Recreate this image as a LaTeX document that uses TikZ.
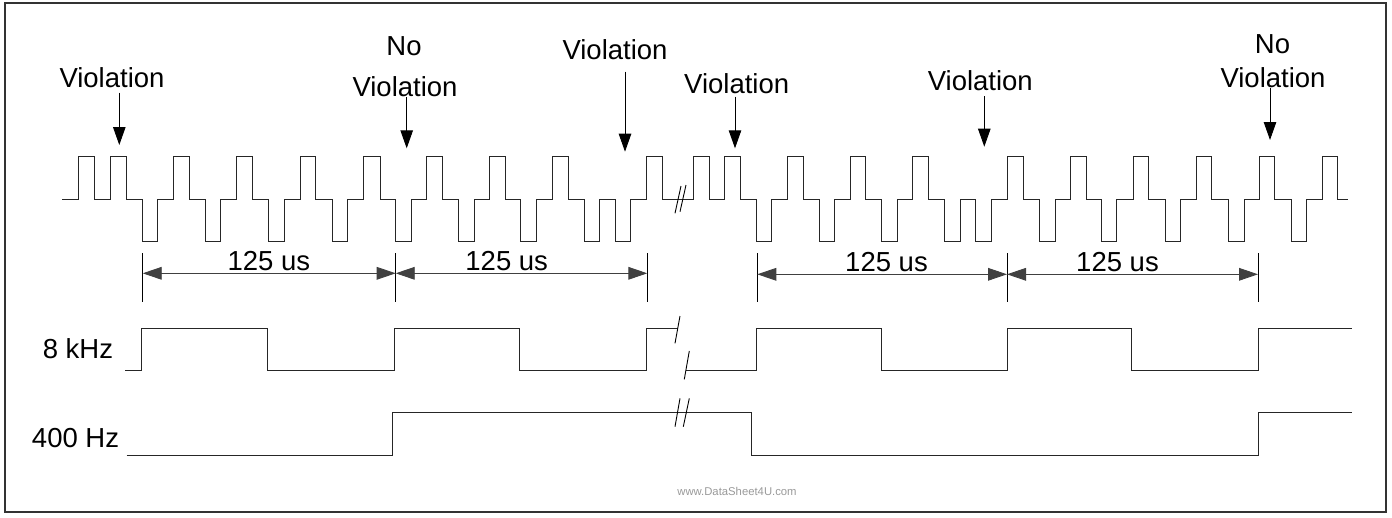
\documentclass[tikz,border=0pt]{standalone}
\usepackage{fontspec}
\setmainfont{Liberation Sans}
\usetikzlibrary{arrows.meta}
\begin{document}
\begin{tikzpicture}[x=1pt,y=-1pt,
  lbl/.style={font=\fontsize{27.5}{33}\selectfont, inner sep=0pt, anchor=base},
  lble/.style={font=\fontsize{27.5}{33}\selectfont, inner sep=0pt, anchor=base east},
  wave/.style={line width=1pt, black!85, line join=miter},
  varrow/.style={line width=0.9pt, -{Triangle[length=18pt,width=12.5pt]}},
  darrow/.style={line width=0.9pt, black!75, {Triangle[length=19pt,width=12.7pt]}-{Triangle[length=19pt,width=12.7pt]}},
  tickline/.style={line width=0.9pt},
  brk/.style={line width=0.9pt},
  frame/.style={line width=1.8pt, black!80},
  wm/.style={font=\fontsize{11.3}{13}\selectfont, text=black!40, inner sep=0pt, anchor=base}]
\useasboundingbox (0,0) rectangle (1392,517);
\draw[frame] (5,3.3) rectangle (1386,512);
\def\yH{156}
\def\yB{199.5}
\def\yL{241}
% line-coded signal
\draw[wave] (62,\yB) -| (78.3,\yH) -| (94.3,\yB) -| (110,\yH) -| (126.3,\yB)
 -| (142.3,\yL) -| (157.3,\yB) -| (173.3,\yH) -| (189.3,\yB) -| (205.3,\yL)
 -| (220.7,\yB) -| (236.7,\yH) -| (252.7,\yB) -| (268.7,\yL) -| (284,\yB)
 -| (300,\yH) -| (315.7,\yB) -| (332,\yL) -| (347.3,\yB) -| (363.3,\yH)
 -| (380,\yB) -| (395.5,\yL) -| (411,\yB) -| (426.7,\yH) -| (442.3,\yB)
 -| (458.7,\yL) -| (474,\yB) -| (489.3,\yH) -| (505.3,\yB) -| (520.7,\yL)
 -| (536.7,\yB) -| (552.3,\yH) -| (568.3,\yB) -| (584,\yL) -| (599,\yB)
 -| (615,\yL) -| (630.7,\yB) -| (646.7,\yH) -| (662.3,\yB) -| (693.3,\yH)
 -| (709.3,\yB) -| (724.3,\yH) -| (740,\yB) -| (756,\yL) -| (771,\yB)
 -| (787.3,\yH) -| (803.3,\yB) -| (819.3,\yL) -| (834.3,\yB) -| (850,\yH)
 -| (865.7,\yB) -| (881.7,\yL) -| (897.3,\yB) -| (912.7,\yH) -| (928.3,\yB)
 -| (944.3,\yL) -| (960,\yB) -| (975.7,\yL) -| (991.7,\yB) -| (1007,\yH)
 -| (1023,\yB) -| (1039.3,\yL) -| (1055,\yB) -| (1070.7,\yH) -| (1086,\yB)
 -| (1101.7,\yL) -| (1116.7,\yB) -| (1133.3,\yH) -| (1148.3,\yB) -| (1165,\yL)
 -| (1180,\yB) -| (1196,\yH) -| (1211,\yB) -| (1228.3,\yL) -| (1244,\yB)
 -| (1259.3,\yH) -| (1274.3,\yB) -| (1291,\yL) -| (1306.7,\yB) -| (1322.3,\yH)
 -| (1337.7,\yB) -- (1347.7,\yB);
\draw[brk] (675,213.3) -- (681,186);
\draw[brk] (680,211.7) -- (686,185);
% labels and arrows
\node[lbl] (v1) at (112,87.3) {Violation};
\coordinate (v1s) at (119.3,92.7); \coordinate (v1t) at (119.3,145);
\draw[varrow] (v1s) -- (v1t);
\node[lbl] (nv1a) at (404,55) {No};
\node[lbl] (nv1b) at (405,96.7) {Violation};
\coordinate (nv1s) at (406.7,97); \coordinate (nv1t) at (406.7,148.3);
\draw[varrow] (nv1s) -- (nv1t);
\node[lbl] (v2) at (615,59.3) {Violation};
\coordinate (v2s) at (625,71.7); \coordinate (v2t) at (625,151.7);
\draw[varrow] (v2s) -- (v2t);
\node[lbl] (v3) at (736.7,93.3) {Violation};
\coordinate (v3s) at (735,96.7); \coordinate (v3t) at (735,148.3);
\draw[varrow] (v3s) -- (v3t);
\node[lbl] (v4) at (980.3,90) {Violation};
\coordinate (v4s) at (984.3,96); \coordinate (v4t) at (984.3,146.7);
\draw[varrow] (v4s) -- (v4t);
\node[lbl] (nv2a) at (1272.5,53.3) {No};
\node[lbl] (nv2b) at (1273,87.3) {Violation};
\coordinate (nv2s) at (1270,88.3); \coordinate (nv2t) at (1270,140);
\draw[varrow] (nv2s) -- (nv2t);
% dimension lines
\foreach \n/\x/\y in {d1/142.7/273.3, d2/395.7/273.3, d3/647.3/273.3, d4/757.3/274.3, d5/1007/274.3, d6/1258/274.3} {
  \coordinate (\n t) at (\x,253);
  \coordinate (\n b) at (\x,301.7);
  \coordinate (\n m) at (\x,\y);
  \draw[tickline] (\n t) -- (\n b);
}
\draw[darrow] (d1m) -- (d2m);
\draw[darrow] (d2m) -- (d3m);
\draw[darrow] (d4m) -- (d5m);
\draw[darrow] (d5m) -- (d6m);
\node[lbl] (t1) at (268.8,270.7) {125 us};
\node[lbl] (t2) at (506.7,270.7) {125 us};
\node[lbl] (t3) at (886.5,271.3) {125 us};
\node[lbl] (t4) at (1117.5,271.3) {125 us};
% 8 kHz
\node[lble] (k8) at (113.3,358.3) {8 kHz};
\draw[wave] (125,370) -| (141.7,328.3) -| (267.3,370) -| (394.3,328.3) -| (519.3,370) -| (646,328.3) -- (677.7,328.3);
\draw[wave] (686,370) -| (756.7,328.3) -| (881.7,370) -| (1007,328.3) -| (1131.5,370) -| (1258.8,328.3) -- (1352,328.3);
\draw[brk] (675,343.3) -- (680,316);
\draw[brk] (684.3,379.3) -- (689.3,351);
% 400 Hz
\node[lble] (h4) at (119.3,447.3) {400 Hz};
\draw[wave] (126.7,455) -| (392.3,412.7) -| (751.7,455) -| (1258.8,412.7) -- (1352,412.7);
\draw[brk] (675,426.7) -- (680,398.3);
\draw[brk] (683.3,426.7) -- (689.3,398.3);
% watermark
\node[wm] (wm) at (737,495) {www.DataSheet4U.com};
\end{tikzpicture}
\end{document}
